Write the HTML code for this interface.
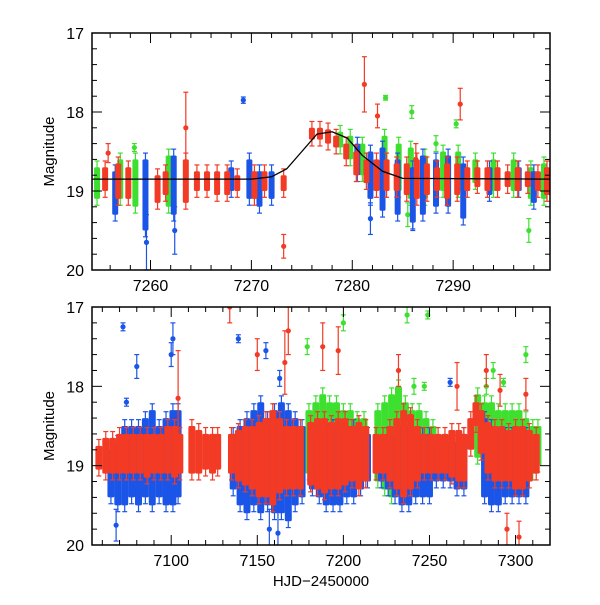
<!DOCTYPE html>
<html><head><meta charset="utf-8"><style>
body{margin:0;background:#fff}
svg text{font-family:"Liberation Sans",sans-serif}
</style></head><body>
<svg id="chart" width="600" height="600" xmlns="http://www.w3.org/2000/svg">
<defs>
<clipPath id="clipTop"><rect x="92" y="33" width="458" height="237"/></clipPath>
<clipPath id="clipBot"><rect x="92" y="307" width="458" height="238"/></clipPath>
</defs>
<g id="top"></g>
<g id="bot"></g>
</svg>
<script>
// ---- TOP PANEL DATA ----
const modelT=[7254,7270,7272,7273.5,7275,7276.5,7278,7279.5,7281,7283,7285,7300];
const modelM=[18.85,18.85,18.82,18.72,18.5,18.28,18.25,18.33,18.55,18.75,18.84,18.85];
const topRedT=[7255.5,7256.8,7257.8,7260.7,7261.5,7263.5,7264.6,7265.6,7266.6,7267.6,7268.6,7270.3,7271.3,7273.2,7276,7276.8,7277.6,7278.4,7279.4,7280.4,7281.4,7282.4,7283.4,7284.4,7285.4,7286.4,7287.4,7288.4,7289.4,7290.4,7291.4,7292.4,7293.4,7294.4,7295.4,7296.4,7297.4,7298.4,7299.3];
const topRedLo=[18.7,18.65,18.7,18.8,18.75,18.6,18.75,18.75,18.75,18.75,18.8,18.75,18.75,18.8,18.2,18.2,18.22,18.3,18.4,18.5,18.6,18.6,18.6,18.65,18.65,18.6,18.65,18.7,18.65,18.65,18.7,18.7,18.7,18.7,18.75,18.7,18.75,18.75,18.7];
const topRedHi=[19.0,19.1,19.1,19.15,19.05,19.15,19.0,19.0,19.05,19.05,19.0,19.1,19.0,19.0,18.35,18.35,18.4,18.45,18.6,18.8,18.9,19.0,19.0,19.0,19.05,19.1,19.05,19.0,19.1,19.05,19.0,18.95,19.0,19.0,18.95,19.0,18.95,19.0,19.05];
const topRedOutT=[7255.8,7263.5,7273.2,7281.2,7282.5,7290.7,7286.3];
const topRedOutM=[18.52,18.2,19.7,17.65,18.05,17.9,18.6];
const topRedOutE=[0.12,0.45,0.15,0.35,0.15,0.2,0.2];
const topBlueT=[7256.5,7259.5,7262.3,7268,7269.8,7270.8,7272,7280.5,7281.8,7283,7284.5,7286,7287,7288.3,7289.5,7291,7293.6,7296.5,7298];
const topBlueLo=[18.75,18.6,18.55,18.7,18.6,18.75,18.75,18.4,18.5,18.45,18.6,18.7,18.55,18.6,18.55,18.65,18.7,18.7,18.75];
const topBlueHi=[19.3,19.5,19.3,19.0,19.1,19.2,19.1,18.8,19.1,19.25,19.3,19.4,19.3,19.2,19.2,19.35,19.05,19.0,19.15];
const topBlueOutT=[7269.2,7259.6,7286,7262.4,7281.8];
const topBlueOutM=[17.85,19.65,19.3,19.5,19.35];
const topBlueOutE=[0.04,0.35,0.2,0.3,0.2];
const topGreenT=[7254.7,7257,7258.5,7261.8,7278.8,7279.8,7281,7283.2,7284.6,7285.8,7287.2,7289,7290.5,7292.2,7294,7296,7297.7,7299];
const topGreenLo=[18.7,18.6,18.6,18.55,18.25,18.3,18.4,18.3,18.4,18.45,18.55,18.5,18.5,18.6,18.6,18.6,18.7,18.65];
const topGreenHi=[19.1,19.1,19.2,19.2,18.45,18.6,18.8,18.8,19.0,19.1,19.1,19.0,19.0,18.9,19.0,19.0,19.1,19.1];
const topGreenOutT=[7258.4,7283.3,7285.9,7290.3,7297.5,7288.3,7285.5];
const topGreenOutM=[18.45,17.82,18.0,18.15,19.5,18.4,19.3];
const topGreenOutE=[0.05,0.03,0.08,0.05,0.15,0.1,0.15];
// ---- BOTTOM PANEL DATA ----
const botRedT=[7058,7062,7066,7070,7074,7078,7082,7086,7090,7094,7098,7102,7105,7112,7116,7120,7124,7127,7135,7139,7143,7147,7151,7155,7159,7163,7167,7171,7175,7181,7185,7189,7193,7197,7201,7205,7209,7213,7219,7223,7227,7231,7235,7239,7243,7247,7251,7255,7259,7263,7267,7270,7274,7277,7280,7284,7288,7292,7296,7300,7304,7308,7312];
const botRedLo=[18.75,18.65,18.65,18.6,18.6,18.6,18.6,18.6,18.6,18.6,18.5,18.5,18.6,18.5,18.55,18.6,18.6,18.6,18.6,18.55,18.5,18.5,18.45,18.4,18.3,18.4,18.5,18.5,18.5,18.45,18.4,18.4,18.45,18.4,18.4,18.5,18.45,18.5,18.6,18.6,18.5,18.4,18.3,18.35,18.5,18.6,18.6,18.6,18.6,18.55,18.55,18.6,18.4,18.2,18.3,18.45,18.5,18.5,18.55,18.5,18.5,18.55,18.6];
const botRedHi=[19.05,19.1,19.1,19.1,19.1,19.1,19.1,19.15,19.1,19.1,19.1,19.15,19.1,19.1,19.1,19.05,19.1,19.05,19.1,19.2,19.25,19.3,19.4,19.4,19.5,19.35,19.3,19.3,19.3,19.25,19.3,19.35,19.3,19.3,19.25,19.2,19.3,19.2,19.1,19.1,19.2,19.3,19.4,19.3,19.2,19.1,19.1,19.1,19.1,19.15,19.2,19.2,18.8,18.5,18.85,19.1,19.2,19.2,19.2,19.3,19.3,19.2,19.1];
const botRedOutT=[7104,7134,7150,7166,7168,7188,7197,7232,7266,7283,7291,7306,7295,7302];
const botRedOutM=[18.15,17.0,17.6,17.7,17.3,17.5,17.55,17.8,18.0,17.8,18.05,18.1,19.8,19.9];
const botRedOutE=[0.6,0.2,0.2,0.4,0.3,0.3,0.3,0.2,0.3,0.2,0.2,0.2,0.2,0.2];
const botBlueT=[7065,7069,7073,7077,7081,7085,7089,7093,7097,7101,7104,7136,7140,7144,7148,7152,7156,7160,7164,7168,7172,7176,7182,7186,7190,7194,7198,7202,7206,7210,7214,7222,7226,7230,7234,7238,7242,7246,7250,7254,7258,7262,7266,7270,7282,7286,7290,7294,7298,7302,7306];
const botBlueLo=[18.8,18.7,18.5,18.5,18.5,18.4,18.3,18.5,18.4,18.3,18.3,18.6,18.5,18.4,18.3,18.2,18.4,18.3,18.2,18.3,18.4,18.5,18.6,18.5,18.5,18.5,18.5,18.5,18.5,18.6,18.6,18.7,18.6,18.6,18.5,18.5,18.6,18.6,18.6,18.7,18.7,18.7,18.7,18.6,18.4,18.5,18.6,18.6,18.6,18.6,18.6];
const botBlueHi=[19.4,19.5,19.5,19.4,19.5,19.4,19.5,19.4,19.5,19.5,19.4,19.3,19.5,19.6,19.5,19.6,19.5,19.6,19.6,19.7,19.5,19.4,19.3,19.4,19.5,19.5,19.5,19.4,19.4,19.3,19.2,19.2,19.3,19.4,19.5,19.5,19.4,19.4,19.4,19.2,19.2,19.2,19.3,19.3,19.4,19.5,19.5,19.4,19.4,19.4,19.4];
const botBlueOutT=[7072,7074,7080,7101,7100,7139,7155,7163,7262,7068,7157,7162];
const botBlueOutM=[17.25,18.2,17.75,17.4,17.6,17.4,17.55,17.9,17.95,19.75,19.8,19.85];
const botBlueOutE=[0.05,0.05,0.15,0.2,0.15,0.05,0.1,0.1,0.05,0.2,0.25,0.3];
const botGreenT=[7180,7184,7188,7192,7196,7200,7204,7208,7212,7220,7224,7228,7232,7236,7240,7244,7248,7252,7278,7282,7286,7290,7294,7298,7302,7306,7310,7313];
const botGreenLo=[18.3,18.2,18.1,18.2,18.2,18.3,18.3,18.4,18.4,18.3,18.2,18.1,18.0,18.2,18.3,18.3,18.4,18.5,18.1,18.2,18.2,18.3,18.3,18.3,18.3,18.4,18.5,18.5];
const botGreenHi=[19.1,19.2,19.3,19.2,19.2,19.2,19.2,19.1,19.1,19.2,19.3,19.4,19.3,19.2,19.1,19.1,19.0,18.9,18.9,19.0,19.2,19.1,19.0,19.1,19.2,19.1,19.1,19.0];
const botGreenOutT=[7179,7200,7237,7241,7247,7249,7283,7287,7293,7306];
const botGreenOutM=[17.5,17.2,17.1,18.0,18.0,17.1,18.0,17.8,17.95,17.6];
const botGreenOutE=[0.1,0.1,0.1,0.1,0.05,0.05,0.1,0.1,0.05,0.1];

const NS="http://www.w3.org/2000/svg";
const RED="#f23a25",BLUE="#1b55e8",GREEN="#3ee030";
function el(p,tag,a){const e=document.createElementNS(NS,tag);for(const k in a)e.setAttribute(k,a[k]);p.appendChild(e);return e;}
function panel(g,clip,top,bot,xmin,xmax,majors,minorStep,colW){
  const L=92,R=550;
  const sx=t=>L+(t-xmin)/(xmax-xmin)*(R-L);
  const sy=m=>top+(m-17)/3*(bot-top);
  const marks=el(g,'g',{'clip-path':`url(#${clip})`});
  return {sx,sy,L,R,top,bot,xmin,xmax,majors,minorStep,g,marks,colW};
}
function drawSeries(P,name,color,T,Lo,Hi,OT,OM,OE){
  const g=el(P.marks,'g',{});
  
  
  const hw=P.colW/2;
  for(let i=0;i<T.length;i++){
    const x=P.sx(T[i]);
    const w=el(g,'line',{x1:x,x2:x,y1:P.sy(Lo[i]-0.08),y2:P.sy(Hi[i]+0.08),stroke:color,'stroke-width':1.2});
    
    el(g,'line',{x1:x-2.5,x2:x+2.5,y1:P.sy(Lo[i]-0.08),y2:P.sy(Lo[i]-0.08),stroke:color,'stroke-width':1.2});
    el(g,'line',{x1:x-2.5,x2:x+2.5,y1:P.sy(Hi[i]+0.08),y2:P.sy(Hi[i]+0.08),stroke:color,'stroke-width':1.2});
    const r=el(g,'rect',{x:x-hw,y:P.sy(Lo[i]),width:2*hw,height:P.sy(Hi[i])-P.sy(Lo[i]),fill:color,rx:1.5});
    
    
  }
  for(let i=0;i<OT.length;i++){
    const x=P.sx(OT[i]),y1=P.sy(OM[i]-OE[i]),y2=P.sy(OM[i]+OE[i]);
    el(g,'line',{x1:x,x2:x,y1:y1,y2:y2,stroke:color,'stroke-width':1.2});
    el(g,'line',{x1:x-2.5,x2:x+2.5,y1:y1,y2:y1,stroke:color,'stroke-width':1.2});
    el(g,'line',{x1:x-2.5,x2:x+2.5,y1:y2,y2:y2,stroke:color,'stroke-width':1.2});
    const c=el(g,'circle',{cx:x,cy:P.sy(OM[i]),r:2.6,fill:color});
    
    
  }
}
function axes(P,showX){
  const g=P.g;
  const f=el(g,'rect',{x:P.L,y:P.top,width:P.R-P.L,height:P.bot-P.top,fill:'none',stroke:'#000','stroke-width':1.5});
  
  
  for(let k=0;k<=15;k++){
    const m=17+k*0.2,y=P.sy(m),maj=(k%5===0),len=maj?10:5;
    el(g,'line',{x1:P.L,x2:P.L+len,y1:y,y2:y,stroke:'#000'});
    el(g,'line',{x1:P.R-len,x2:P.R,y1:y,y2:y,stroke:'#000'});
    if(maj){const t=el(g,'text',{x:P.L-8,y:y+6,'text-anchor':'end','font-size':16});t.textContent=17+k/5;
      }
  }
  const start=Math.ceil(P.xmin/P.minorStep)*P.minorStep;
  for(let t=start;t<=P.xmax;t+=P.minorStep){
    const x=P.sx(t),maj=P.majors.includes(t),len=maj?10:5;
    el(g,'line',{x1:x,x2:x,y1:P.bot,y2:P.bot-len,stroke:'#000'});
    el(g,'line',{x1:x,x2:x,y1:P.top,y2:P.top+len,stroke:'#000'});
  }
  for(const t of P.majors){const e=el(g,'text',{x:P.sx(t),y:P.bot+21,'text-anchor':'middle','font-size':16});e.textContent=t;
    }
  const yt=el(g,'text',{x:0,y:0,transform:`translate(54,${(P.top+P.bot)/2}) rotate(-90)`,'text-anchor':'middle','font-size':15});
  yt.textContent='Magnitude';
  
  
  if(showX){const xt=el(g,'text',{x:(P.L+P.R)/2,y:P.bot+41,'text-anchor':'middle','font-size':15});xt.textContent='HJD\u22122450000';
    }
}
const PT=panel(document.getElementById('top'),'clipTop',33,270,7254.2,7299.6,[7260,7270,7280,7290],2,6);
drawSeries(PT,'series-green',GREEN,topGreenT,topGreenLo,topGreenHi,topGreenOutT,topGreenOutM,topGreenOutE);
drawSeries(PT,'series-blue',BLUE,topBlueT,topBlueLo,topBlueHi,topBlueOutT,topBlueOutM,topBlueOutE);
drawSeries(PT,'series-red',RED,topRedT,topRedLo,topRedHi,topRedOutT,topRedOutM,topRedOutE);
let d='';for(let i=0;i<modelT.length;i++)d+=(i?'L':'M')+PT.sx(modelT[i])+' '+PT.sy(modelM[i]);
const mc=el(PT.marks,'path',{d:d,fill:'none',stroke:'#000','stroke-width':1.3});


axes(PT,false);
const PB=panel(document.getElementById('bot'),'clipBot',307,545,7054,7320,[7100,7150,7200,7250,7300],10,7);
drawSeries(PB,'series-green',GREEN,botGreenT,botGreenLo,botGreenHi,botGreenOutT,botGreenOutM,botGreenOutE);
drawSeries(PB,'series-blue',BLUE,botBlueT,botBlueLo,botBlueHi,botBlueOutT,botBlueOutM,botBlueOutE);
drawSeries(PB,'series-red',RED,botRedT,botRedLo,botRedHi,botRedOutT,botRedOutM,botRedOutE);
axes(PB,true);
</script>
</body></html>
